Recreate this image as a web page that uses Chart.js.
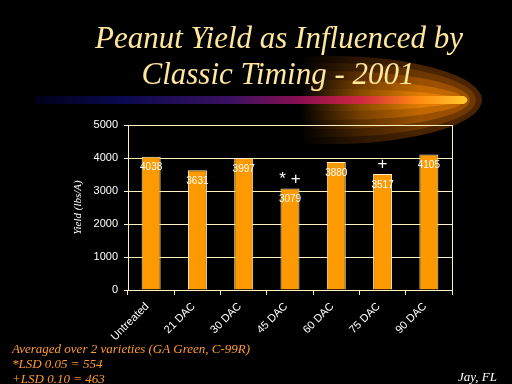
<!DOCTYPE html>
<html><head><meta charset="utf-8">
<script src="https://cdn.jsdelivr.net/npm/chart.js@4/dist/chart.umd.min.js"></script>
<style>html,body{margin:0;padding:0;background:#000;}#wrap{width:512px;height:384px;position:relative;}</style>
</head><body><div id="wrap"><canvas id="c" width="512" height="384"></canvas></div>
<script>
const categories = ["Untreated","21 DAC","30 DAC","45 DAC","60 DAC","75 DAC","90 DAC"];
const yieldValues = [4038, 3631, 3997, 3079, 3880, 3517, 4105];
const valueLabels = ["4038","3631","3997","3079","3880","3517","4105"];
const sigMarks = ["", "", "", "* +", "", "+", ""];
const yTicks = [0,1000,2000,3000,4000,5000];
const titleLines = ["Peanut Yield as Influenced by","Classic Timing - 2001"];
const footnotes = ["Averaged over 2 varieties (GA Green, C-99R)","*LSD 0.05 = 554","+LSD 0.10 = 463"];
const locationNote = "Jay, FL";

function drawSwoosh(ctx){
  const off = document.createElement('canvas');
  off.width = 512; off.height = 384;
  const o = off.getContext('2d');
  const layers = [
    {rx:152, ry:44, c:'#4a2400'},
    {rx:146, ry:37, c:'#6e3800'},
    {rx:140, ry:29, c:'#9a5000'},
    {rx:134, ry:20, c:'#c26800'},
    {rx:128, ry:11, c:'#e07c00'}
  ];
  layers.forEach(L=>{
    o.save();
    o.translate(330,100);
    o.scale(1, L.ry/L.rx);
    o.fillStyle = L.c;
    o.beginPath();
    o.arc(0,0,L.rx,0,Math.PI*2);
    o.fill();
    o.restore();
  });
  o.globalCompositeOperation = 'destination-in';
  const fg = o.createLinearGradient(300,0,420,0);
  fg.addColorStop(0,'rgba(0,0,0,0)');
  fg.addColorStop(0.5,'rgba(0,0,0,0.6)');
  fg.addColorStop(1,'rgba(0,0,0,1)');
  o.fillStyle = fg;
  o.fillRect(0,0,512,384);
  ctx.drawImage(off,0,0);
}

const decor = {
  id:'decor',
  beforeDraw(chart){
    const ctx = chart.ctx;
    ctx.save();
    ctx.fillStyle = '#000';
    ctx.fillRect(0,0,chart.width,chart.height);
    drawSwoosh(ctx);
    const lg = ctx.createLinearGradient(35,0,470,0);
    lg.addColorStop(0,'#000018');
    lg.addColorStop(0.2,'#0a0a50');
    lg.addColorStop(0.45,'#3a1060');
    lg.addColorStop(0.62,'#901050');
    lg.addColorStop(0.75,'#d02840');
    lg.addColorStop(0.88,'#ff8a10');
    lg.addColorStop(1,'#ffcc30');
    ctx.fillStyle = lg;
    ctx.beginPath();
    ctx.moveTo(35,96);
    ctx.lineTo(464,96);
    ctx.quadraticCurveTo(471,100,464,104);
    ctx.lineTo(35,104);
    ctx.closePath();
    ctx.fill();
    ctx.fillStyle = '#FFE79C';
    ctx.font = 'italic 31px "Liberation Serif", "DejaVu Serif", serif';
    ctx.textAlign = 'center';
    ctx.textBaseline = 'alphabetic';
    ctx.fillText(titleLines[0], 279, 48);
    ctx.fillText(titleLines[1], 278, 84);
    ctx.textAlign = 'left';
    ctx.fillStyle = '#FF9A33';
    ctx.font = 'italic 13px "Liberation Serif", serif';
    footnotes.forEach((t,i)=>ctx.fillText(t, 12, 353 + i*15));
    ctx.fillStyle = '#ffffff';
    ctx.textAlign = 'right';
    ctx.fillText(locationNote, 497, 381);
    ctx.restore();
  },
  afterDatasetsDraw(chart){
    const ctx = chart.ctx;
    const meta = chart.getDatasetMeta(0);
    const a = chart.chartArea;
    ctx.save();
    ctx.strokeStyle = '#FFF2C0';
    ctx.lineWidth = 1;
    ctx.beginPath();
    ctx.moveTo(Math.round(a.right)+0.5, a.top);
    ctx.lineTo(Math.round(a.right)+0.5, a.bottom);
    ctx.stroke();
    ctx.textAlign = 'center';
    meta.data.forEach((bar,i)=>{
      ctx.fillStyle = '#ffffff';
      ctx.font = '10px "Liberation Sans Narrow", "Liberation Sans", sans-serif';
      ctx.textBaseline = 'top';
      ctx.fillText(valueLabels[i], bar.x, bar.y + 6);
      if (sigMarks[i]) {
        ctx.font = '17px "Liberation Sans", sans-serif';
        ctx.textBaseline = 'bottom';
        ctx.fillText(sigMarks[i], bar.x, bar.y - 1);
      }
    });
    ctx.restore();
  }
};

new Chart(document.getElementById('c'), {
  type:'bar',
  data:{
    labels: categories,
    datasets:[{
      data: yieldValues,
      backgroundColor:'#FF9900',
      borderColor:'#FFF2C0',
      borderWidth:1,
      barPercentage:0.41,
      categoryPercentage:1.0
    }]
  },
  options:{
    responsive:false,
    animation:false,
    devicePixelRatio:1,
    layout:{padding:{top:125,left:72,right:60,bottom:0}},
    plugins:{legend:{display:false},tooltip:{enabled:false},title:{display:false}},
    scales:{
      x:{
        afterFit(s){ s.height = 94; },
        border:{color:'#FFF2C0',width:1},
        grid:{offset:true,drawOnChartArea:false,color:'#FFF2C0',tickLength:5},
        ticks:{color:'#ffffff',maxRotation:45,minRotation:45,padding:5,labelOffset:-4,
          font:{family:'"Liberation Sans", "DejaVu Sans", sans-serif',size:11}}
      },
      y:{
        min:0,max:5000,
        afterFit(s){ s.width = 56; },
        afterBuildTicks(s){ s.ticks = yTicks.map(v=>({value:v})); },
        border:{color:'#FFF2C0',width:1},
        grid:{color:'#FFF2C0',tickLength:4},
        ticks:{color:'#ffffff',padding:6,callback:(v)=>String(v),
          font:{family:'"Liberation Sans", "DejaVu Sans", sans-serif',size:11}},
        title:{display:true,text:'Yield (lbs/A)',color:'#ffffff',padding:0,
          font:{family:'"Liberation Serif", serif',style:'italic',size:11}}
      }
    }
  },
  plugins:[decor]
});
</script></body></html>
